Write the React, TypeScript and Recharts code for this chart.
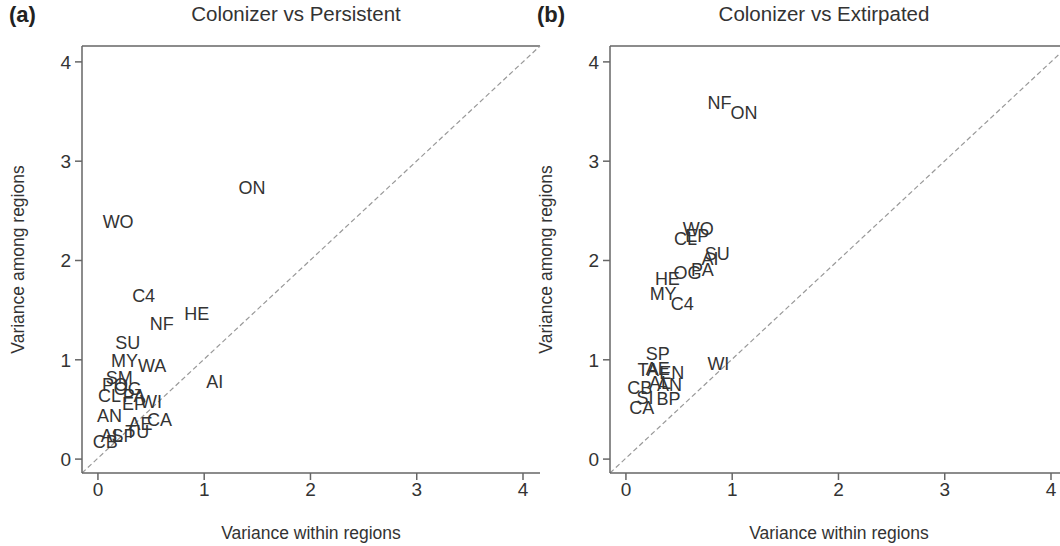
import React from "react";
import {
    ScatterChart,
    Scatter,
    XAxis,
    YAxis,
    ReferenceLine,
} from "recharts";

// panel (a) Colonizer vs Persistent
const labelsA = ["ON", "WO", "C4", "HE", "NF", "SU", "MY", "WA", "SM", "AI", "PO", "OG", "CL", "PA", "EP", "WI", "AN", "AE", "CA", "AL", "SP", "TU", "CB"];
const withinA = [1.45, 0.19, 0.43, 0.93, 0.6, 0.28, 0.25, 0.51, 0.2, 1.1, 0.16, 0.28, 0.11, 0.34, 0.34, 0.5, 0.11, 0.4, 0.58, 0.13, 0.24, 0.37, 0.07];
const amongA = [2.73, 2.39, 1.64, 1.46, 1.36, 1.17, 0.99, 0.94, 0.82, 0.78, 0.75, 0.71, 0.64, 0.64, 0.55, 0.57, 0.43, 0.35, 0.39, 0.23, 0.23, 0.27, 0.17];

// panel (b) Colonizer vs Extirpated
const labelsB = ["NF", "ON", "WO", "CL", "EP", "SU", "AI", "OG", "PA", "HE", "MY", "C4", "SP", "WI", "TA", "AE", "EN", "CB", "AL", "AN", "SI", "BP", "CA"];
const withinB = [0.88, 1.11, 0.68, 0.56, 0.67, 0.86, 0.79, 0.58, 0.72, 0.39, 0.35, 0.53, 0.3, 0.87, 0.21, 0.3, 0.43, 0.13, 0.32, 0.41, 0.18, 0.4, 0.15];
const amongB = [3.59, 3.49, 2.32, 2.22, 2.25, 2.07, 2.02, 1.87, 1.9, 1.81, 1.66, 1.56, 1.06, 0.96, 0.9, 0.91, 0.87, 0.72, 0.77, 0.75, 0.62, 0.61, 0.51];

const axisTicks = [0, 1, 2, 3, 4];

const font = "'Liberation Sans', Arial, sans-serif";

const X_MIN = -0.15, X_MAX = 4.16;
const Y_MIN = -0.14, Y_MAX = 4.16;

const buildData = (labels: string[], xs: number[], ys: number[]) =>
    labels.map((label, i) => ({ label, x: xs[i], y: ys[i] }));

function LabelShape(props: any) {
    const { cx, cy, payload } = props;
    return (
        <text
            x={cx}
            y={cy}
            textAnchor="middle"
            dominantBaseline="central"
            fontSize={18}
            fontFamily={font}
            fill="#333"
        >
            {payload.label}
        </text>
    );
}

type panelProps = {
    tag: string,
    title: string,
    left: number,
    data: { label: string, x: number, y: number }[],
};

function Panel(props: panelProps) {
    const tickStyle = { fontSize: 19, fill: "#333", fontFamily: font };
    const labelStyle = { fontSize: 17.5, fill: "#333", fontFamily: font };
    return (
        <div style={{ position: "absolute", left: props.left, top: 0, width: 545, height: 546 }}>
            <div style={{ position: "absolute", left: 9, top: 2, fontFamily: font, fontWeight: "bold", fontSize: 22, color: "#222" }}>
                {props.tag}
            </div>
            <div style={{ position: "absolute", left: 82, width: 428, top: 2, textAlign: "center", fontFamily: font, fontSize: 20.5, color: "#333" }}>
                {props.title}
            </div>
            <ScatterChart
                width={545}
                height={546}
                margin={{ top: 46, right: 5, bottom: 3, left: 0 }}
            >
                <XAxis
                    type="number"
                    dataKey="x"
                    domain={[X_MIN, X_MAX]}
                    ticks={axisTicks}
                    allowDataOverflow
                    height={70}
                    tickSize={7}
                    tickMargin={3}
                    tick={tickStyle}
                    stroke="#666"
                    strokeWidth={1.5}
                    label={{ value: "Variance within regions", position: "insideBottom", offset: 4, style: labelStyle }}
                />
                <YAxis
                    type="number"
                    dataKey="y"
                    domain={[Y_MIN, Y_MAX]}
                    ticks={axisTicks}
                    allowDataOverflow
                    width={82}
                    tickSize={7}
                    tickMargin={4}
                    tick={tickStyle}
                    stroke="#666"
                    strokeWidth={1.5}
                    label={{ value: "Variance among regions", angle: -90, position: "insideLeft", offset: 18, style: { ...labelStyle, textAnchor: "middle" } }}
                />
                <YAxis
                    yAxisId="right"
                    orientation="right"
                    type="number"
                    domain={[Y_MIN, Y_MAX]}
                    allowDataOverflow
                    width={0}
                    tick={false}
                    tickLine={false}
                    stroke="#666"
                    strokeWidth={1.5}
                />
                <ReferenceLine y={Y_MAX} ifOverflow="visible" stroke="#666" strokeWidth={1.5} />
                <ReferenceLine
                    segment={[{ x: X_MIN, y: Y_MIN }, { x: X_MAX, y: Y_MAX }]}
                    ifOverflow="visible"
                    stroke="#999"
                    strokeWidth={1.2}
                    strokeDasharray="5 3"
                />
                <Scatter data={props.data} shape={LabelShape} isAnimationActive={false} />
            </ScatterChart>
        </div>
    );
}

export default function App() {
    return (
        <div style={{ position: "absolute", left: 0, top: 0, width: 1060, height: 546, overflow: "hidden", background: "#fff" }}>
            <Panel tag="(a)" title="Colonizer vs Persistent" left={0} data={buildData(labelsA, withinA, amongA)} />
            <Panel tag="(b)" title="Colonizer vs Extirpated" left={528} data={buildData(labelsB, withinB, amongB)} />
        </div>
    );
}
